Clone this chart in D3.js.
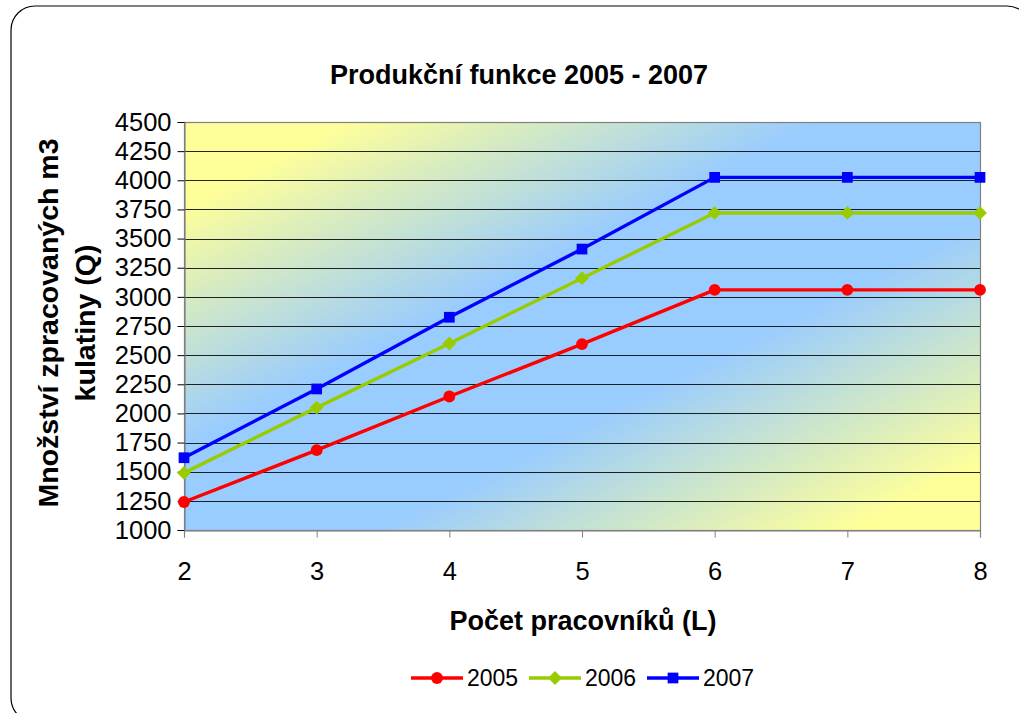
<!DOCTYPE html>
<html>
<head>
<meta charset="utf-8">
<script src="https://cdn.jsdelivr.net/npm/d3@7"></script>
<style>
  html, body { margin: 0; padding: 0; background: #fff; }
  svg { display: block; font-family: "Liberation Sans", Arial, sans-serif; }
</style>
</head>
<body>
<svg id="chart" width="1019" height="713"></svg>
<script>
// Production function data: output vs. number of workers
const workers = [2, 3, 4, 5, 6, 7, 8];
const years = ["2005", "2006", "2007"];
const q2005 = [1240, 1685, 2145, 2595, 3060, 3060, 3060];
const q2006 = [1490, 2050, 2600, 3160, 3720, 3720, 3720];
const q2007 = [1620, 2210, 2825, 3410, 4025, 4025, 4025];
const yTicks = [1000, 1250, 1500, 1750, 2000, 2250, 2500, 2750, 3000, 3250, 3500, 3750, 4000, 4250, 4500];
const colors = ["#FF0000", "#99CC00", "#0000FF"];
const symbols = [d3.symbolCircle, d3.symbolSquare, d3.symbolSquare];
const symbolSizes = [110, 95, 115];
const symbolRot = [0, 45, 0];

const series = years.map((y, i) => ({
  name: y,
  values: [q2005, q2006, q2007][i].map((v, j) => ({ x: workers[j], y: v })),
  color: colors[i],
  symbol: symbols[i],
  size: symbolSizes[i],
  rot: symbolRot[i]
}));

const FONT = "Liberation Sans, Arial, sans-serif";
const svg = d3.select("#chart");

// Outer rounded frame
svg.append("rect")
  .attr("x", 11).attr("y", 6)
  .attr("width", 1020).attr("height", 716)
  .attr("rx", 24).attr("ry", 24)
  .attr("fill", "#fff").attr("stroke", "#000").attr("stroke-width", 1.2);

const plot = { left: 184, right: 980, top: 122, bottom: 530 };

const x = d3.scaleLinear().domain([2, 8]).range([plot.left, plot.right]);
const y = d3.scaleLinear().domain([1000, 4500]).range([plot.bottom, plot.top]);

// Diagonal yellow-blue-yellow background
const defs = svg.append("defs");
const grad = defs.append("linearGradient")
  .attr("id", "bg")
  .attr("x1", 0).attr("y1", 0)
  .attr("x2", 1).attr("y2", 1);
[[0, "#FFFF99"], [0.1, "#FFFF99"], [0.4, "#99CCFF"], [0.62, "#99CCFF"], [0.92, "#FFFF99"], [1, "#FFFF99"]]
  .forEach(([o, c]) => grad.append("stop").attr("offset", o).attr("stop-color", c));

svg.append("rect")
  .attr("x", plot.left).attr("y", plot.top)
  .attr("width", plot.right - plot.left).attr("height", plot.bottom - plot.top)
  .attr("fill", "url(#bg)");

// Horizontal gridlines
svg.append("g")
  .selectAll("line")
  .data(yTicks.slice(1))
  .join("line")
  .attr("x1", plot.left).attr("x2", plot.right)
  .attr("y1", d => Math.round(y(d)) + 0.5).attr("y2", d => Math.round(y(d)) + 0.5)
  .attr("stroke", "#000").attr("stroke-width", 1).attr("stroke-opacity", 0.85);

// Plot border
svg.append("rect")
  .attr("x", plot.left + 0.5).attr("y", plot.top + 0.5)
  .attr("width", plot.right - plot.left).attr("height", plot.bottom - plot.top)
  .attr("fill", "none").attr("stroke", "#808080").attr("stroke-width", 1.2);

// Y axis
const yAxis = svg.append("g")
  .attr("transform", `translate(${plot.left + 0.5},0)`)
  .call(d3.axisLeft(y).tickValues(yTicks).tickFormat(d3.format("d")).tickSize(7).tickPadding(6));
yAxis.select(".domain").attr("stroke", "#808080").attr("stroke-width", 1.2);
yAxis.selectAll(".tick line").attr("stroke", "#000");
yAxis.selectAll(".tick text")
  .attr("font-size", 25.5).attr("fill", "#000").attr("font-family", FONT);

// X axis
const xAxis = svg.append("g")
  .attr("transform", `translate(0,${plot.bottom + 0.5})`)
  .call(d3.axisBottom(x).tickValues(workers).tickFormat(d3.format("d")).tickSize(7).tickPadding(24));
xAxis.select(".domain").attr("stroke", "#808080").attr("stroke-width", 1.2);
xAxis.selectAll(".tick line").attr("stroke", "#808080");
xAxis.selectAll(".tick text")
  .attr("font-size", 25.5).attr("fill", "#000").attr("font-family", FONT);

// Series lines and markers
const line = d3.line().x(d => x(d.x)).y(d => y(d.y));
series.forEach(s => {
  svg.append("path")
    .datum(s.values)
    .attr("d", line)
    .attr("fill", "none")
    .attr("stroke", s.color)
    .attr("stroke-width", 3.4)
    .attr("stroke-linejoin", "round");
  svg.append("g")
    .selectAll("path")
    .data(s.values)
    .join("path")
    .attr("transform", d => `translate(${x(d.x)},${y(d.y)}) rotate(${s.rot})`)
    .attr("d", d3.symbol().type(s.symbol).size(s.size))
    .attr("fill", s.color);
});

// Title
svg.append("text")
  .attr("x", 519).attr("y", 84)
  .attr("text-anchor", "middle")
  .attr("font-size", 27).attr("font-weight", "bold")
  .text("Produkční funkce 2005 - 2007");

// Axis titles
svg.append("text")
  .attr("x", 583).attr("y", 630)
  .attr("text-anchor", "middle")
  .attr("font-size", 27).attr("font-weight", "bold")
  .text("Počet pracovníků (L)");

const yTitle = svg.append("text")
  .attr("transform", "translate(0,323) rotate(-90)")
  .attr("text-anchor", "middle")
  .attr("font-size", 28.5).attr("font-weight", "bold");
yTitle.append("tspan").attr("x", 0).attr("y", 58).text("Množství zpracovaných m3");
yTitle.append("tspan").attr("x", 0).attr("y", 95).text("kulatiny (Q)");

// Legend
const legendX = [411, 529, 647];
const legend = svg.append("g");
series.forEach((s, i) => {
  const g = legend.append("g").attr("transform", `translate(${legendX[i]},678)`);
  g.append("line")
    .attr("x1", 0).attr("x2", 52).attr("y1", 0).attr("y2", 0)
    .attr("stroke", s.color).attr("stroke-width", 3.4);
  g.append("path")
    .attr("transform", `translate(26,0) rotate(${s.rot})`)
    .attr("d", d3.symbol().type(s.symbol).size(s.size))
    .attr("fill", s.color);
  g.append("text")
    .attr("x", 56).attr("y", 8)
    .attr("font-size", 23)
    .text(s.name);
});
</script>
</body>
</html>
